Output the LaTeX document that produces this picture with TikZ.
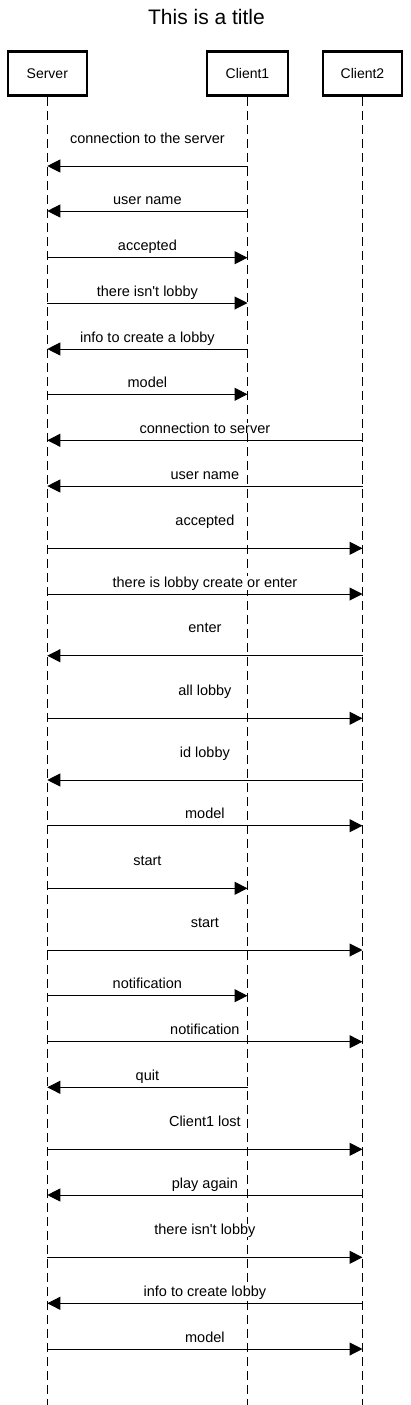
\documentclass[tikz,border=0pt]{standalone}
\usepackage{fontspec}
\setmainfont{Liberation Sans}
\usetikzlibrary{arrows.meta}

\begin{document}
\begin{tikzpicture}[x=1pt,y=-1pt,
  actor/.style={draw,line width=2.5pt,minimum width=79pt,minimum height=44pt,inner sep=0pt,font=\fontsize{14}{16}\selectfont},
  life/.style={line width=1pt,dash pattern=on 9pt off 5pt},
  msg/.style={line width=1pt,-{Triangle[length=13pt,width=13pt]}},
  lbl/.style={anchor=base,inner sep=0pt,fill=white,yshift=7pt,font=\fontsize{14.5}{16}\selectfont},
  lblfar/.style={anchor=base,inner sep=0pt,fill=white,yshift=23pt,font=\fontsize{14.5}{16}\selectfont}]
\useasboundingbox (0,0) rectangle (411,1405);
\node [anchor=base,font=\fontsize{21}{24}\selectfont] (title) at (206.5,25) {This is a title};
\node [actor] (srv) at (47.3,73.7) {Server};
\node [actor,minimum width=81pt] (cl1) at (247.5,73.7) {Client1};
\node [actor] (cl2) at (362.5,73.7) {Client2};
\coordinate (srvend) at (srv |- 0,1405);
\coordinate (cl1end) at (cl1 |- 0,1405);
\coordinate (cl2end) at (cl2 |- 0,1405);
\draw [life] (srv) -- (srvend);
\draw [life] (cl1) -- (cl1end);
\draw [life] (cl2) -- (cl2end);
\draw [msg] (cl1 |- 0,166) -- node [lblfar]{connection to the server} (srv |- 0,166);
\draw [msg] (cl1 |- 0,211) -- node [lbl]{user name} (srv |- 0,211);
\draw [msg] (srv |- 0,257.7) -- node [lbl]{accepted} (cl1 |- 0,257.7);
\draw [msg] (srv |- 0,303) -- node [lbl]{there isn\textquotesingle t lobby} (cl1 |- 0,303);
\draw [msg] (cl1 |- 0,349) -- node [lbl]{info to create a lobby} (srv |- 0,349);
\draw [msg] (srv |- 0,394.3) -- node [lbl]{model} (cl1 |- 0,394.3);
\draw [msg] (cl2 |- 0,440.3) -- node [lbl]{connection to server} (srv |- 0,440.3);
\draw [msg] (cl2 |- 0,486) -- node [lbl]{user name} (srv |- 0,486);
\draw [msg] (srv |- 0,548.3) -- node [lblfar]{accepted} (cl2 |- 0,548.3);
\draw [msg] (srv |- 0,594) -- node [lbl]{there is lobby create or enter} (cl2 |- 0,594);
\draw [msg] (cl2 |- 0,655.7) -- node [lblfar]{enter} (srv |- 0,655.7);
\draw [msg] (srv |- 0,718.3) -- node [lblfar]{all lobby} (cl2 |- 0,718.3);
\draw [msg] (cl2 |- 0,780) -- node [lblfar]{id lobby} (srv |- 0,780);
\draw [msg] (srv |- 0,825.7) -- node [lbl]{model} (cl2 |- 0,825.7);
\draw [msg] (srv |- 0,888.3) -- node [lblfar]{start} (cl1 |- 0,888.3);
\draw [msg] (srv |- 0,950) -- node [lblfar]{start} (cl2 |- 0,950);
\draw [msg] (srv |- 0,995.7) -- node [lbl]{notification} (cl1 |- 0,995.7);
\draw [msg] (srv |- 0,1041.7) -- node [lbl]{notification} (cl2 |- 0,1041.7);
\draw [msg] (cl1 |- 0,1087.3) -- node [lbl]{quit} (srv |- 0,1087.3);
\draw [msg] (srv |- 0,1149.3) -- node [lblfar]{Client1 lost} (cl2 |- 0,1149.3);
\draw [msg] (cl2 |- 0,1195) -- node [lbl]{play again} (srv |- 0,1195);
\draw [msg] (srv |- 0,1257.3) -- node [lblfar]{there isn\textquotesingle t lobby} (cl2 |- 0,1257.3);
\draw [msg] (cl2 |- 0,1303.3) -- node [lbl]{info to create lobby} (srv |- 0,1303.3);
\draw [msg] (srv |- 0,1349) -- node [lbl]{model} (cl2 |- 0,1349);
\end{tikzpicture}
\end{document}
